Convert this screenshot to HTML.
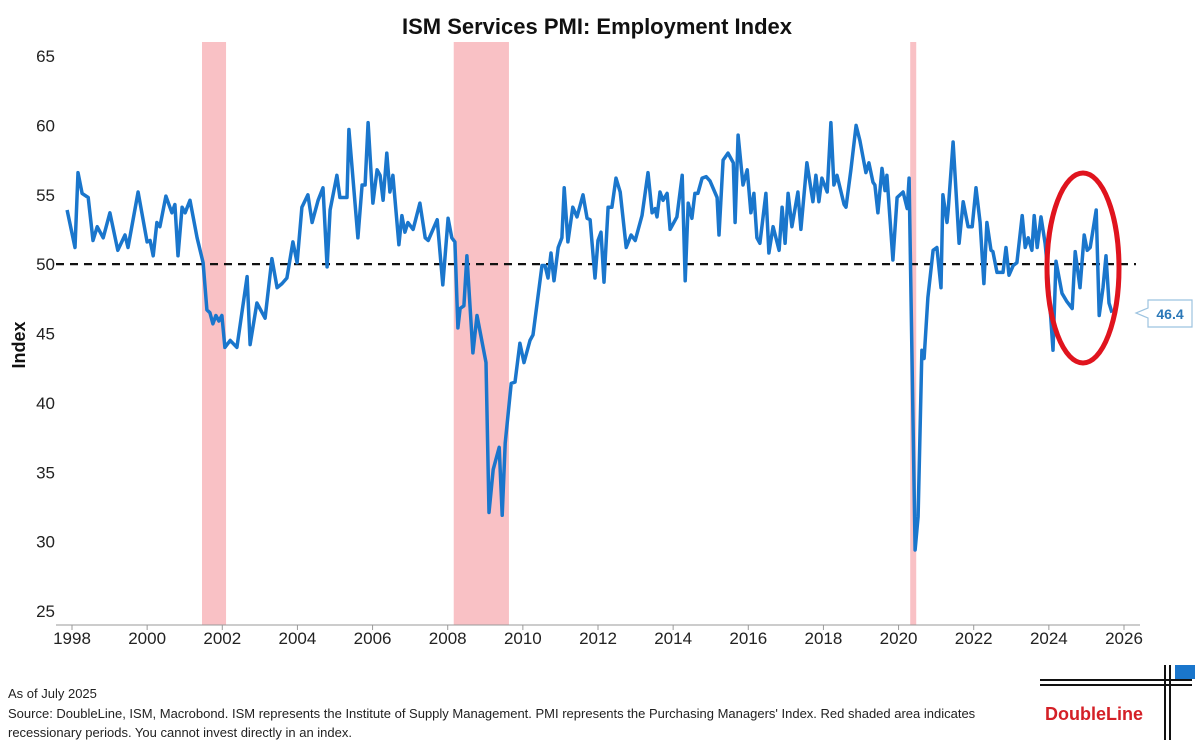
<!DOCTYPE html>
<html><head><meta charset="utf-8"><style>
body{margin:0;background:#fff;width:1200px;height:750px;overflow:hidden;font-family:"Liberation Sans",sans-serif}
</style></head><body>
<svg width="1200" height="750" viewBox="0 0 1200 750">
<text x="597" y="34" text-anchor="middle" font-size="22" font-weight="bold" fill="#111">ISM Services PMI: Employment Index</text>
<text transform="translate(25,345) rotate(-90)" text-anchor="middle" font-size="18" font-weight="bold" fill="#111">Index</text>
<g id="rec"></g><g id="yt"></g><g id="xt"></g>
<line x1="56" y1="625" x2="1140" y2="625" stroke="#999" stroke-width="1"/>
<g id="ref"></g>
<path id="line" fill="none" stroke="#1a76cc" stroke-width="3.5" stroke-linejoin="round"/>
<ellipse cx="1083" cy="268" rx="36" ry="95" fill="none" stroke="#e0141e" stroke-width="5"/>
<g>
<path d="M1148,300 L1192,300 L1192,327 L1148,327 L1148,318 L1136,313 L1148,308 Z" fill="#fff" stroke="#9cc3e0" stroke-width="1.2"/>
<text x="1170" y="319" text-anchor="middle" font-size="14" font-weight="bold" fill="#2b78b8">46.4</text>
</g>
<text x="8" y="698" font-size="13" fill="#222">As of July 2025</text>
<text x="8" y="718" font-size="13" fill="#222">Source: DoubleLine, ISM, Macrobond. ISM represents the Institute of Supply Management. PMI represents the Purchasing Managers' Index. Red shaded area indicates</text>
<text x="8" y="737" font-size="13" fill="#222">recessionary periods. You cannot invest directly in an index.</text>
<g>
<line x1="1040" y1="680" x2="1192" y2="680" stroke="#111" stroke-width="2"/>
<line x1="1040" y1="685" x2="1192" y2="685" stroke="#111" stroke-width="2"/>
<line x1="1165" y1="665" x2="1165" y2="740" stroke="#111" stroke-width="2"/>
<line x1="1170" y1="665" x2="1170" y2="740" stroke="#111" stroke-width="2"/>
<rect x="1175" y="665" width="20" height="14" fill="#1a76cc"/>
<text x="1045" y="720" font-size="18" font-weight="bold" fill="#d42027">DoubleLine</text>
</g>
</svg>
<script>
const yTicks=[25,30,35,40,45,50,55,60,65];
const xTicks=[1998,2000,2002,2004,2006,2008,2010,2012,2014,2016,2018,2020,2022,2024,2026];
const recStart=[2001.46,2008.16,2020.31];
const recEnd=[2002.1,2009.63,2020.47];
const refLevel=[50];
const dates=[1997.87,1998.08,1998.16,1998.27,1998.43,1998.56,1998.67,1998.83,1999.01,1999.22,1999.41,1999.49,1999.76,2000.00,2000.08,2000.16,2000.26,2000.34,2000.50,2000.66,2000.74,2000.82,2000.93,2001.01,2001.14,2001.33,2001.49,2001.59,2001.67,2001.75,2001.83,2001.91,2001.99,2002.07,2002.21,2002.39,2002.66,2002.74,2002.92,2003.14,2003.32,2003.46,2003.59,2003.72,2003.88,2003.99,2004.12,2004.28,2004.39,2004.55,2004.68,2004.79,2004.87,2005.05,2005.13,2005.32,2005.37,2005.61,2005.72,2005.80,2005.88,2006.01,2006.12,2006.20,2006.28,2006.38,2006.46,2006.54,2006.70,2006.78,2006.86,2006.94,2007.08,2007.26,2007.40,2007.48,2007.72,2007.87,2008.01,2008.11,2008.19,2008.27,2008.33,2008.43,2008.51,2008.67,2008.78,2009.02,2009.10,2009.21,2009.37,2009.45,2009.53,2009.69,2009.79,2009.92,2010.03,2010.19,2010.27,2010.51,2010.59,2010.67,2010.75,2010.83,2010.94,2011.04,2011.10,2011.20,2011.33,2011.44,2011.60,2011.71,2011.79,2011.92,2012.00,2012.08,2012.16,2012.27,2012.37,2012.48,2012.59,2012.75,2012.88,2012.99,2013.17,2013.33,2013.44,2013.52,2013.57,2013.65,2013.73,2013.84,2013.92,2014.10,2014.24,2014.32,2014.40,2014.50,2014.58,2014.66,2014.77,2014.88,2014.98,2015.17,2015.22,2015.33,2015.46,2015.60,2015.65,2015.73,2015.86,2015.97,2016.07,2016.15,2016.23,2016.31,2016.47,2016.55,2016.66,2016.82,2016.90,2016.98,2017.06,2017.16,2017.32,2017.40,2017.56,2017.72,2017.80,2017.88,2017.96,2018.10,2018.20,2018.28,2018.36,2018.55,2018.60,2018.73,2018.87,2018.97,2019.13,2019.21,2019.32,2019.37,2019.45,2019.56,2019.64,2019.69,2019.85,2019.96,2020.12,2020.23,2020.28,2020.44,2020.52,2020.62,2020.68,2020.78,2020.92,2021.02,2021.13,2021.18,2021.29,2021.32,2021.45,2021.61,2021.72,2021.85,2021.96,2022.06,2022.17,2022.27,2022.35,2022.46,2022.51,2022.62,2022.70,2022.78,2022.86,2022.94,2023.05,2023.15,2023.29,2023.37,2023.45,2023.55,2023.61,2023.69,2023.79,2023.90,2023.95,2024.11,2024.19,2024.35,2024.48,2024.62,2024.70,2024.83,2024.94,2025.02,2025.10,2025.26,2025.34,2025.44,2025.52,2025.60,2025.68];
const values=[53.9,51.2,56.6,55.1,54.8,51.7,52.7,51.9,53.7,51.0,52.1,51.2,55.2,51.6,51.7,50.6,53.0,52.7,54.9,53.7,54.3,50.6,54.1,53.7,54.6,51.9,50.1,46.7,46.5,45.7,46.3,45.9,46.3,44.0,44.5,44.0,49.1,44.2,47.2,46.1,50.4,48.3,48.6,49.0,51.6,50.1,54.1,55.0,53.0,54.6,55.5,49.8,53.9,56.4,54.8,54.8,59.7,51.9,55.7,55.7,60.2,54.4,56.8,56.4,54.6,58.0,55.2,56.4,51.4,53.5,52.3,53.0,52.5,54.4,51.9,51.7,53.2,48.5,53.3,51.9,51.6,45.4,46.8,47.0,50.6,43.6,46.3,42.9,32.1,35.2,36.8,31.9,37.1,41.4,41.5,44.3,42.9,44.5,44.9,49.9,49.9,49.0,50.8,48.8,51.2,51.9,55.5,51.6,54.1,53.4,55.0,53.3,53.2,49.0,51.7,52.3,48.7,54.1,54.1,56.2,55.2,51.2,52.1,51.7,53.5,56.6,53.7,54.0,53.4,55.2,54.6,55.1,52.5,53.4,56.4,48.8,54.4,53.3,55.1,55.1,56.2,56.3,56.0,54.8,52.1,57.5,58.0,57.3,53.0,59.3,55.7,56.8,53.7,55.1,51.9,51.5,55.1,50.8,52.7,51.0,54.1,51.5,55.1,52.7,55.2,52.5,57.3,54.5,56.4,54.5,56.2,55.2,60.2,55.7,56.4,54.3,54.1,56.8,60.0,58.9,56.6,57.3,55.9,55.7,53.7,56.9,55.3,56.4,50.3,54.8,55.2,54.0,56.2,29.4,31.8,43.8,43.2,47.6,51.0,51.2,48.3,55.0,53.0,53.9,58.8,51.5,54.5,52.7,52.7,55.5,53.0,48.6,53.0,51.0,50.9,49.4,49.4,49.4,51.2,49.2,49.9,50.1,53.5,51.2,51.9,51.0,53.5,51.2,53.4,51.5,50.1,43.8,50.2,47.9,47.3,46.8,50.9,48.3,52.1,51.0,51.2,53.9,46.3,48.3,50.6,47.2,46.5];
const NS="http://www.w3.org/2000/svg";
const X=y=>72+(y-1998)*(1124-72)/28;
const Y=v=>611-(v-25)*(611-56)/40;
function mk(tag,attrs,parent,txt){const e=document.createElementNS(NS,tag);for(const k in attrs)e.setAttribute(k,attrs[k]);if(txt!==undefined)e.textContent=txt;document.getElementById(parent).appendChild(e);return e;}
recStart.forEach((s,i)=>{const r=mk('rect',{x:X(s),y:42,width:X(recEnd[i])-X(s),height:583,fill:'#f9c1c5'},'rec');

});
yTicks.forEach(v=>{const t=mk('text',{x:55,y:Y(v)+6,'text-anchor':'end','font-size':17,fill:'#222'},'yt',v);

});
xTicks.forEach(v=>{const t=mk('text',{x:X(v),y:644,'text-anchor':'middle','font-size':17,fill:'#222'},'xt',v);


const l=mk('line',{x1:X(v),x2:X(v),y1:625,y2:630,stroke:'#999'},'xt');

});
refLevel.forEach(v=>{const l=mk('line',{x1:56,x2:1136,y1:Y(v),y2:Y(v),stroke:'#111','stroke-width':2.2,'stroke-dasharray':'8,6'},'ref');

});
document.getElementById('line').setAttribute('d',dates.map((d,i)=>(i?'L':'M')+X(d).toFixed(1)+','+Y(values[i]).toFixed(1)).join(''));
</script>
</body></html>
